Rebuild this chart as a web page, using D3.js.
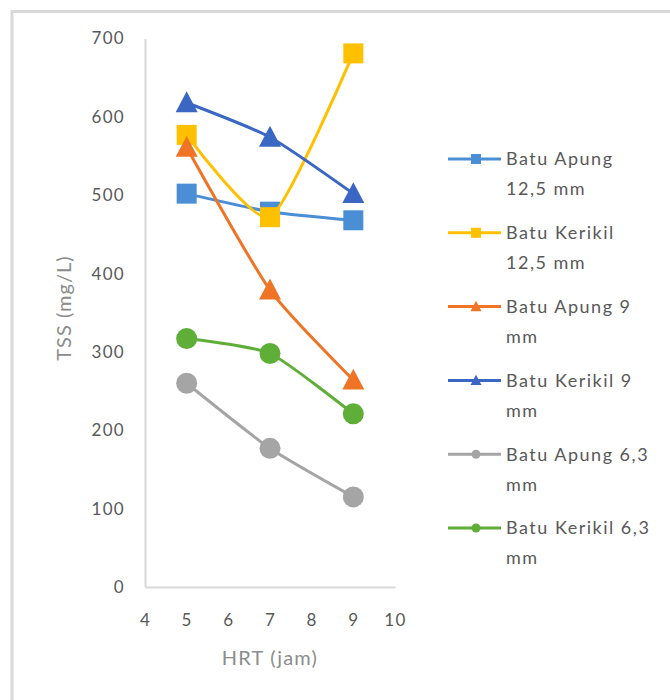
<!DOCTYPE html>
<html>
<head>
<meta charset="utf-8">
<script src="https://cdn.jsdelivr.net/npm/d3@7/dist/d3.min.js"></script>
<style>
  body { margin: 0; background: #fff; }
  text { font-family: Lato, "Open Sans", sans-serif; }
</style>
</head>
<body>
<div id="chart"></div>
<script>
// HRT values (jam)
var hrt = [5, 7, 9];

// TSS (mg/L) per series
var apung125 = [502, 479, 468];
var kerikil125 = [577, 472, 681];
var apung9 = [561, 379, 264];
var kerikil9 = [618, 574, 502];
var apung63 = [260, 177, 115];
var kerikil63 = [317, 298, 221];

var legendLines = [
    ["Batu Apung", "12,5 mm"],
    ["Batu Kerikil", "12,5 mm"],
    ["Batu Apung 9", "mm"],
    ["Batu Kerikil 9", "mm"],
    ["Batu Apung 6,3", "mm"],
    ["Batu Kerikil 6,3", "mm"]
];

var xTicks = [4, 5, 6, 7, 8, 9, 10];
var yTicks = [0, 100, 200, 300, 400, 500, 600, 700];

var series = [
    { values: apung125, color: "#4a8fd6", marker: "square" },
    { values: kerikil125, color: "#ffc000", marker: "square" },
    { values: apung9, color: "#ef7426", marker: "triangle" },
    { values: kerikil9, color: "#3a66c4", marker: "triangle" },
    { values: apung63, color: "#a5a5a5", marker: "circle" },
    { values: kerikil63, color: "#5fae38", marker: "circle" }
];

var width = 670;
var height = 700;

var svg = d3.select("#chart")
    .append("svg")
    .attr("width", width)
    .attr("height", height);

// chart frame (cropped at right and bottom)
svg.append("rect")
    .attr("x", 12)
    .attr("y", 11.5)
    .attr("width", 700)
    .attr("height", 720)
    .attr("fill", "#fff")
    .attr("stroke", "#d9d9d9")
    .attr("stroke-width", 3);

var x = d3.scaleLinear().domain([4, 10]).range([145, 395]);
var y = d3.scaleLinear().domain([0, 700]).range([587, 38.5]);

// axes
var yAxis = svg.append("g")
    .attr("transform", "translate(145,0)")
    .call(d3.axisLeft(y).tickValues(yTicks).tickSize(0).tickPadding(20));

var xAxis = svg.append("g")
    .attr("transform", "translate(0,587)")
    .call(d3.axisBottom(x).tickValues(xTicks).tickFormat(d3.format("d"))
        .tickSize(0).tickPadding(27));

[xAxis, yAxis].forEach(function (a) {
    a.select(".domain").attr("stroke", "#d9d9d9").attr("stroke-width", 2);
    a.selectAll("text")
        .attr("fill", "#595959")
        .style("font-size", "17px")
        .style("letter-spacing", "1.3px");
});

// axis titles
svg.append("text")
    .attr("transform", "translate(71,308) rotate(-90)")
    .attr("text-anchor", "middle")
    .attr("fill", "#8c8c8c")
    .style("font-size", "20px")
    .style("letter-spacing", "1px")
    .text("TSS (mg/L)");

svg.append("text")
    .attr("x", 270)
    .attr("y", 665)
    .attr("text-anchor", "middle")
    .attr("fill", "#8c8c8c")
    .style("font-size", "20px")
    .style("letter-spacing", "1.2px")
    .text("HRT (jam)");

var line = d3.line()
    .x(function (d) { return x(d[0]); })
    .y(function (d) { return y(d[1]); })
    .curve(d3.curveCardinal.tension(0.4));

function drawMarker(g, type, cx, cy, size, color) {
    if (type === "square") {
        g.append("rect")
            .attr("x", cx - size / 2)
            .attr("y", cy - size / 2)
            .attr("width", size)
            .attr("height", size)
            .attr("fill", color);
    } else if (type === "circle") {
        g.append("circle")
            .attr("cx", cx)
            .attr("cy", cy)
            .attr("r", size / 2)
            .attr("fill", color);
    } else {
        var h = size * 0.95;
        g.append("path")
            .attr("d", "M" + cx + "," + (cy - h * 0.55) +
                "L" + (cx + size / 2) + "," + (cy + h * 0.45) +
                "L" + (cx - size / 2) + "," + (cy + h * 0.45) + "Z")
            .attr("fill", color);
    }
}

var plot = svg.append("g");

series.forEach(function (s) {
    var pts = hrt.map(function (h, i) { return [h, s.values[i]]; });
    var g = plot.append("g");
    g.append("path")
        .attr("d", line(pts))
        .attr("fill", "none")
        .attr("stroke", s.color)
        .attr("stroke-width", 3);
    pts.forEach(function (p) {
        var size = s.marker === "circle" ? 21 : (s.marker === "triangle" ? 22 : 20);
        drawMarker(g, s.marker, x(p[0]), y(p[1]), size, s.color);
    });
});

// legend
var legend = svg.append("g");
series.forEach(function (s, i) {
    var ly = 159 + i * 73.8;
    var g = legend.append("g");
    g.append("line")
        .attr("x1", 448).attr("x2", 501)
        .attr("y1", ly).attr("y2", ly)
        .attr("stroke", s.color)
        .attr("stroke-width", 3);
    var size = s.marker === "circle" ? 9 : (s.marker === "triangle" ? 11 : 10);
    drawMarker(g, s.marker, 476, ly, size, s.color);
    legendLines[i].forEach(function (t, j) {
        g.append("text")
            .attr("x", 506)
            .attr("y", ly + j * 30)
            .attr("dy", "0.35em")
            .attr("fill", "#595959")
            .style("font-size", "18px")
            .style("letter-spacing", "1.5px")
            .text(t);
    });
});
</script>
</body>
</html>
